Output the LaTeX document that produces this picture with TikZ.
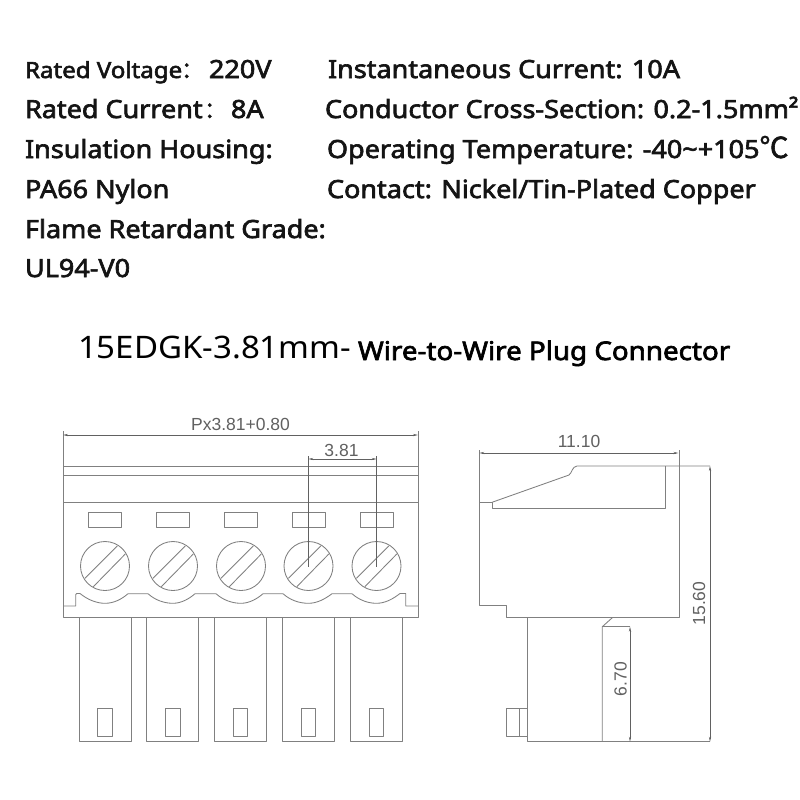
\documentclass[tikz,border=0pt]{standalone}
\usepackage{fontspec}
\usetikzlibrary{arrows.meta}
\setmainfont{Noto Sans}
\newfontfamily\txt[FakeBold=2.6,FakeStretch=1.08]{Noto Sans}
\newfontfamily\htxt[FakeStretch=1.065]{Noto Sans}
\newfontfamily\cjktxt[FakeBold=2]{Noto Sans CJK SC}
\newfontfamily\dimfont{Liberation Sans}
\newcommand{\fsz}[1]{\fontsize{#1}{#1}\selectfont}
\tikzset{
  spec/.style={anchor=base west,inner sep=0pt,outer sep=0pt,text=black!92,font=\txt\fsz{25}},
  specs/.style={spec,font=\txt\fsz{22.3}},
  title/.style={anchor=base west,inner sep=0pt,outer sep=0pt,text=black},
  dimlabel/.style={inner sep=0pt,outer sep=0pt,text=black!62,font=\dimfont\fsz{17.5}},
  part/.style={draw=black!50,line width=0.85pt,line join=round},
  dimline/.style={draw=black!62,line width=0.65pt},
  dimarrow/.style={dimline,{Stealth[length=5pt,width=2.2pt]}-{Stealth[length=5pt,width=2.2pt]}}
}
\begin{document}
\begin{tikzpicture}[x=1pt,y=-1pt]
\useasboundingbox (0,0) rectangle (800,800);
\fill[white] (0,0) rectangle (800,800);
% specification text
\node[specs] (t1) at (25,78) {Rated Voltage};
\node[specs] (t1c) at (181,78) {\cjktxt\fsz{23}：};
\node[spec] (t1v) at (209,78) {220V};
\node[spec] (t2) at (25,118) {Rated Current};
\node[spec] (t2c) at (204,118) {\cjktxt\fsz{23}：};
\node[spec] (t2v) at (231,118) {8A};
\node[spec] (t3) at (25,158) {Insulation Housing:};
\node[spec] (t4) at (25,198) {PA66 Nylon};
\node[spec] (t5) at (25,238) {Flame Retardant Grade:};
\node[spec] (t6) at (25,277) {UL94-V0};
\node[spec] (r1) at (328,78) {Instantaneous Current: 10A};
\node[spec] (r2) at (325,118) {Conductor Cross-Section: 0.2-1.5mm²};
\node[spec] (r3) at (327,158) {Operating Temperature: -40\textasciitilde+105{\cjktxt\fsz{29}℃}};
\node[spec] (r4) at (327,198) {Contact: Nickel/Tin-Plated Copper};
% title
\node[title,font=\htxt\fsz{31}] (h1) at (78,358) {15EDGK-3.81mm-};
\node[title,font=\txt\fsz{25.7}] (h2) at (358,360) {Wire-to-Wire Plug Connector};
% front view
\draw[part] (63,466) -- (418,466);
\draw[part] (63,475) -- (418,475);
\draw[part] (63,502) -- (418,502);
\draw[part] (63,431) -- (63,617.7) -- (418,617.7) -- (418,431);
\foreach \x/\p in {88.3/79,156/146.7,224/214.5,292/282.3,360/350.3}{
  \draw[part] (\x,512.7) rectangle ++(33,14.6);
  \draw[part] (\p,617.7) -- (\p,741.7) -- (\p+52.2,741.7) -- (\p+52.2,617.7);
  \draw[part] (\p+18.7,708.3) rectangle ++(14.6,28.4);
}
\foreach \c in {105,173,241,308.5,376.5}{
  \draw[part] (\c,566) circle (24.5);
  \draw[part] (\c-20,578.3) -- (\c+12.3,546);
  \draw[part] (\c-11.7,586.7) -- (\c+20.3,554);
}
\draw[part] (63,606) -- (75.7,606) -- (75.7,594.5) .. controls (75.7,593.5) and (77,593.3) .. (80,593.5)
  .. controls (88,600) and (97,603.3) .. (105,603.3) .. controls (114,603.3) and (122,599) .. (128,593.7)
  -- (148,593.7) .. controls (155,600) and (164,603.3) .. (173,603.3) .. controls (181,603.3) and (189,599) .. (195,593.7)
  -- (216,593.7) .. controls (223,600) and (232,603.3) .. (241,603.3) .. controls (249,603.3) and (257,599) .. (263,593.7)
  -- (283,593.7) .. controls (290,600) and (299,603.3) .. (308.5,603.3) .. controls (317,603.3) and (325,599) .. (332,593.7)
  -- (352,593.7) .. controls (359,600) and (368,603.3) .. (376.5,603.3) .. controls (385,603.3) and (393,599) .. (400,593.5)
  -- (405.7,593.5) -- (405.7,606) -- (418,606);
% front dimensions
\coordinate (fl) at (63,435); \coordinate (fr) at (418,435);
\draw[dimarrow] (fl) -- (fr);
\node[dimlabel] (d1) at (240.5,424) {Px3.81+0.80};
\coordinate (pl) at (308.3,459); \coordinate (pr) at (376.7,459);
\draw[dimarrow] (pl) -- (pr);
\draw[dimline] (308.3,456) -- (308.3,566.7);
\draw[dimline] (376.7,456) -- (376.7,566.7);
\node[dimlabel] (d2) at (341.5,450) {3.81};
% side view
\draw[part] (479.3,450) -- (479.3,605) -- (506,605) -- (506,617.7) -- (679,617.7) -- (679,450);
\draw[part] (479.3,502.3) -- (492,502.3) -- (492,508.3) -- (665,508.3) -- (665,466);
\draw[part] (492,502.3) -- (569,475) .. controls (572,473) and (572,466.5) .. (577,466) -- (710,466);
\draw[part] (527.7,617.7) -- (527.7,741.7) -- (710,741.7);
\draw[part] (612.3,617.7) -- (602.3,626.7) -- (602.3,741.7);
\draw[part] (602.3,626.7) -- (630,626.7);
\draw[part] (527.7,708.3) -- (506,708.3) -- (506,736.7) -- (527.7,736.7);
\draw[part] (519,708.3) -- (519,736.7);
% side dimensions
\coordinate (sl) at (479.3,453); \coordinate (sr) at (678.5,453);
\draw[dimarrow] (sl) -- (sr);
\node[dimlabel] (d3) at (579,441.7) {11.10};
\coordinate (vt) at (710,466); \coordinate (vb) at (710,741.7);
\draw[dimarrow] (vt) -- (vb);
\node[dimlabel,rotate=90] (d4) at (699,603.5) {15.60};
\coordinate (wt) at (630,626.7); \coordinate (wb) at (630,741.7);
\draw[dimarrow] (wt) -- (wb);
\node[dimlabel,rotate=90] (d5) at (620.7,679) {6.70};
\end{tikzpicture}
\end{document}
